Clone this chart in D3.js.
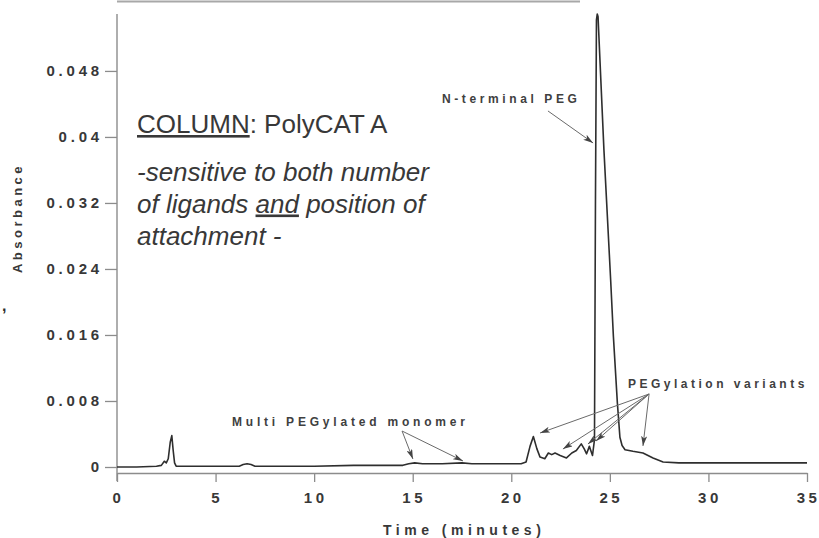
<!DOCTYPE html>
<html>
<head>
<meta charset="utf-8">
<script src="https://cdn.jsdelivr.net/npm/d3@7"></script>
<style>
  body { margin: 0; background: #fff; }
  svg { display: block; font-family: "Liberation Sans", Arial, Helvetica, sans-serif; }
</style>
</head>
<body>
<svg id="chart" width="819" height="538"></svg>
<script>
// Chromatogram trace: retention time (minutes) and absorbance
const timeMin = [
  0, 1.0, 2.0, 2.25, 2.4, 2.5, 2.6, 2.7, 2.78, 2.85, 2.92, 3.0,
  4.0, 5.0, 6.2, 6.4, 6.6, 6.8, 7.0, 8.0, 10.0, 12.0,
  14.5, 14.8, 15.1, 15.5, 16.5, 17.5, 18.0, 20.5,
  20.75, 20.95, 21.12, 21.3, 21.46, 21.7, 21.88, 22.05, 22.22, 22.48, 22.8,
  23.07, 23.3, 23.55, 23.7, 23.82, 23.96, 24.12,
  24.22, 24.27, 24.32, 24.36, 24.40, 24.70, 25.04, 25.18, 25.38, 25.51, 25.62,
  25.77, 26.17, 26.68, 27.19, 27.70, 28.5, 30.0, 35.0
];
const absorbance = [
  0.0000, 0.0000, 0.0001, 0.0002, 0.0007, 0.0005, 0.0010, 0.0030, 0.0038, 0.0020, 0.0005, 0.0001,
  0.0001, 0.0001, 0.0001, 0.0003, 0.0004, 0.0003, 0.0001, 0.0001, 0.0001, 0.0002,
  0.0002, 0.0004, 0.0005, 0.0004, 0.0004, 0.0005, 0.0004, 0.0004,
  0.0006, 0.0025, 0.0037, 0.0022, 0.0012, 0.0010, 0.0017, 0.0015, 0.0017, 0.0014, 0.0011,
  0.0017, 0.0020, 0.0028, 0.0022, 0.0016, 0.0025, 0.0014,
  0.0033, 0.0324, 0.0542, 0.0549, 0.0546, 0.0384, 0.0227, 0.0158, 0.0078, 0.0036, 0.0026,
  0.0021, 0.0019, 0.0017, 0.0011, 0.0006, 0.0005, 0.0005, 0.0005
];

const xTicks = [0, 5, 10, 15, 20, 25, 30, 35];
const yTicks = [0, 0.008, 0.016, 0.024, 0.032, 0.04, 0.048];
const yTickLabels = ["0", "0.008", "0.016", "0.024", "0.032", "0.04", "0.048"];

// Peak annotations: arrows in (time, absorbance) units
const arrowNTerminal = [[21.86, 0.04315, 24.15, 0.03927]];
const arrowsMulti = [
  [14.46, 0.00436, 15.01, 0.00097],
  [14.46, 0.00436, 17.55, 0.00073]
];
const arrowsVariants = [
  [26.99, 0.00885, 21.46, 0.00412],
  [26.99, 0.00885, 22.62, 0.00218],
  [26.99, 0.00885, 23.89, 0.00279],
  [26.99, 0.00885, 24.30, 0.00315],
  [26.99, 0.00885, 26.68, 0.00255]
];

const svg = d3.select("#chart");
const ink = "#2e2e2e";
const textInk = "#383838";
const axisInk = "#8c8c8c";

const x = d3.scaleLinear().domain([0, 35]).range([117, 807]);
const y = d3.scaleLinear().domain([0, 0.0549]).range([467, 14]);
const xAxisY = 473;

// faint rule along the top edge
svg.append("line")
  .attr("x1", 117).attr("x2", 580).attr("y1", 1.5).attr("y2", 1.5)
  .attr("stroke", "#a8a8a8").attr("stroke-width", 2);

// Y axis
const yAxis = svg.append("g")
  .attr("transform", `translate(${x(0)},0)`)
  .call(d3.axisLeft(y).tickValues(yTicks)
    .tickFormat((d, i) => yTickLabels[i])
    .tickSize(12).tickSizeOuter(0).tickPadding(6));
yAxis.select(".domain").remove();
yAxis.append("line")
  .attr("x1", 0).attr("x2", 0).attr("y1", 14).attr("y2", xAxisY + 8)
  .attr("stroke", axisInk).attr("stroke-width", 1.4);
yAxis.selectAll(".tick line").attr("stroke", axisInk).attr("stroke-width", 1.3);
yAxis.selectAll(".tick text")
  .attr("fill", textInk)
  .style("font-size", "15px").style("font-weight", "bold")
  .style("letter-spacing", "3.8px")
  .attr("dx", 4);

// X axis
const xAxis = svg.append("g")
  .attr("transform", `translate(0,${xAxisY})`)
  .call(d3.axisBottom(x).tickValues(xTicks)
    .tickSize(9).tickSizeOuter(0).tickPadding(10.5));
xAxis.select(".domain").attr("stroke", axisInk).attr("stroke-width", 1.4);
xAxis.selectAll(".tick line").attr("stroke", axisInk).attr("stroke-width", 1.3);
xAxis.selectAll(".tick text")
  .attr("fill", textInk)
  .style("font-size", "15px").style("font-weight", "bold")
  .style("letter-spacing", "3.5px")
  .attr("dx", 1);

// axis titles
svg.append("text")
  .attr("transform", "translate(22,218) rotate(-90)")
  .attr("text-anchor", "middle")
  .attr("fill", textInk)
  .style("font-size", "13px").style("font-weight", "bold")
  .style("letter-spacing", "3.5px")
  .text("Absorbance");

svg.append("text")
  .attr("x", 383).attr("y", 535)
  .attr("fill", textInk)
  .style("font-size", "14px").style("font-weight", "bold")
  .style("letter-spacing", "4.5px")
  .text("Time (minutes)");

// stray comma beside the axis title
svg.append("text")
  .attr("x", 2).attr("y", 311)
  .attr("fill", ink)
  .style("font-size", "16px").style("font-weight", "bold")
  .text(",");

// trace
const series = timeMin.map((t, i) => ({ t, a: absorbance[i] }));
svg.append("path")
  .datum(series)
  .attr("fill", "none")
  .attr("stroke", ink)
  .attr("stroke-width", 1.6)
  .attr("stroke-linejoin", "round")
  .attr("d", d3.line().x(d => x(d.t)).y(d => y(d.a)).curve(d3.curveLinear));

// column description
const col = svg.append("text")
  .attr("x", 137).attr("y", 133)
  .attr("fill", textInk)
  .style("font-size", "26px");
col.append("tspan").style("text-decoration", "underline").text("COLUMN");
col.append("tspan").text(": PolyCAT A");

const lines = [
  [{ s: "-sensitive to both number" }],
  [{ s: "of ligands " }, { s: "and", u: true }, { s: " position of" }],
  [{ s: "attachment -" }]
];
const baselines = [180.5, 212.5, 244.5];
lines.forEach((parts, i) => {
  const t = svg.append("text")
    .attr("x", 137).attr("y", baselines[i])
    .attr("fill", textInk)
    .style("font-size", "26px").style("font-style", "italic");
  parts.forEach(p => {
    const ts = t.append("tspan").text(p.s);
    if (p.u) ts.style("text-decoration", "underline");
  });
});

// arrow marker
svg.append("defs").append("marker")
  .attr("id", "head")
  .attr("viewBox", "0 0 10 6")
  .attr("refX", 10).attr("refY", 3)
  .attr("markerWidth", 10).attr("markerHeight", 6)
  .attr("markerUnits", "userSpaceOnUse")
  .attr("orient", "auto")
  .append("path").attr("d", "M0,0 L10,3 L0,6 L2.5,3 Z").attr("fill", "#444");

function arrows(list) {
  svg.append("g").selectAll("line").data(list).join("line")
    .attr("x1", d => x(d[0])).attr("y1", d => y(d[1]))
    .attr("x2", d => x(d[2])).attr("y2", d => y(d[3]))
    .attr("stroke", "#6a6a6a").attr("stroke-width", 1)
    .attr("marker-end", "url(#head)");
}
arrows(arrowNTerminal);
arrows(arrowsMulti);
arrows(arrowsVariants);

function label(txt, px, py, ls) {
  svg.append("text")
    .attr("x", px).attr("y", py)
    .attr("fill", "#404040")
    .style("font-size", "12px").style("font-weight", "bold")
    .style("letter-spacing", ls + "px")
    .text(txt);
}
label("N-terminal PEG", 442, 103, 3.6);
label("Multi PEGylated monomer", 232, 426, 3.8);
label("PEGylation variants", 628, 388, 3.5);
</script>
</body>
</html>
